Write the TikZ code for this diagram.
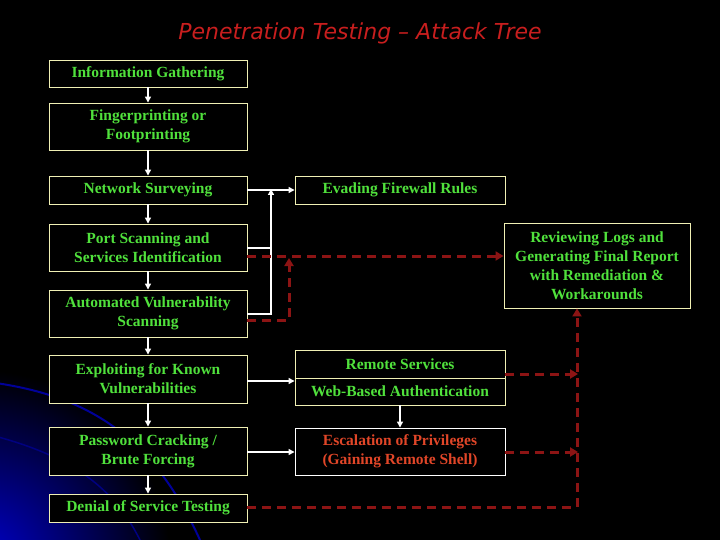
\documentclass[tikz,border=0pt]{standalone}
\usepackage{fontspec}
\setmainfont{Liberation Serif}
\newfontfamily\titlefont{DejaVu Sans}
\usetikzlibrary{arrows.meta}
\definecolor{gtext}{RGB}{80,225,60}
\definecolor{bord}{RGB}{240,240,180}
\definecolor{rtext}{RGB}{225,70,40}
\definecolor{dred}{RGB}{140,20,20}
\definecolor{ttl}{RGB}{200,30,30}
\begin{document}
\begin{tikzpicture}[x=1pt,y=-1pt,
  box/.style={draw=bord,line width=0.9pt,fill=black,text=gtext,font=\bfseries\fontsize{15.5}{19}\selectfont,align=center,inner sep=0pt},
  wa/.style={draw=white,line width=1.3pt,-{Triangle[length=6pt,width=6pt]}},
  wl/.style={draw=white,line width=1.3pt},
  ra/.style={draw=dred,line width=3pt,dash pattern=on 9pt off 6pt,-{Triangle[length=8pt,width=9pt]}},
  rl/.style={draw=dred,line width=3pt,dash pattern=on 9pt off 6pt}]
\fill[black] (0,0) rectangle (720,540);
\begin{scope}
\clip (0,0) rectangle (720,540);
\shade[inner color=blue!80!black,outer color=black] (-20,560) ellipse (190 and 190);
\draw[blue!60!black,line width=2pt] (-30,380) .. controls (80,390) and (150,430) .. (200,540);
\draw[blue!50!black,line width=1.5pt] (-30,430) .. controls (60,450) and (110,480) .. (140,540);
\end{scope}
\node[text=ttl,font=\titlefont\itshape\fontsize{22}{26}\selectfont] (title) at (360,33) {Penetration Testing – Attack Tree};
\node[box,minimum width=198,minimum height=27] (info) at (148,73.5) {Information Gathering};
\node[box,minimum width=198,minimum height=47] (fing) at (148,126.5) {Fingerprinting or\\Footprinting};
\node[box,minimum width=198,minimum height=28] (net) at (148,190) {Network Surveying};
\node[box,minimum width=198,minimum height=47] (port) at (148,247.5) {Port Scanning and\\Services Identification};
\node[box,minimum width=198,minimum height=47] (auto) at (148,313.5) {Automated Vulnerability\\Scanning};
\node[box,minimum width=198,minimum height=48] (expl) at (148,379) {Exploiting for Known\\Vulnerabilities};
\node[box,minimum width=198,minimum height=48] (pass) at (148,451) {Password Cracking /\\Brute Forcing};
\node[box,minimum width=198,minimum height=28] (dos) at (148,508) {Denial of Service Testing};
\node[box,minimum width=210,minimum height=28] (evad) at (400,190) {Evading Firewall Rules};
\node[box,minimum width=210,minimum height=55] (remo) at (400,377.5) {};
\node[text=gtext,font=\bfseries\fontsize{15.5}{19}\selectfont] (remo1) at (400,364) {Remote Services};
\node[text=gtext,font=\bfseries\fontsize{15.5}{19}\selectfont] (remo2) at (400,391) {Web-Based Authentication};
\draw[bord,line width=0.9pt] (remo.west |- 0,378) -- (remo.east |- 0,378);
\node[box,draw=white,text=rtext,minimum width=210,minimum height=47] (esc) at (400,451.5) {Escalation of Privileges\\(Gaining Remote Shell)};
\node[box,minimum width=186,minimum height=85] (rev) at (597,265.5) {Reviewing Logs and\\Generating Final Report\\with Remediation \&\\Workarounds};
% white arrows
\draw[wa] (info) -- (fing);
\draw[wa] (fing) -- (net);
\draw[wa] (net) -- (port);
\draw[wa] (port) -- (auto);
\draw[wa] (auto) -- (expl);
\draw[wa] (expl) -- (pass);
\draw[wa] (pass) -- (dos);
\draw[wa] (net) -- (evad);
\coordinate (bj) at (271,190);
\draw[wl] (port.east |- 0,248) -- (271,248);
\draw[wa] (auto.east |- 0,314) -- (271,314) -- ([yshift=1pt]bj);
\draw[wa] (expl.east |- 0,381) -- (remo.west |- 0,381);
\draw[wa] (pass.east |- 0,452) -- (esc.west |- 0,452);
\draw[wa] (remo.south) -- (esc.north);
% red dashed
\draw[ra] (port.east |- 0,256) -- (rev.west |- 0,256);
\draw[ra] (auto.east |- 0,320) -- (289,320) -- (289,258);
\draw[ra] (remo.east |- 0,374) -- (578,374);
\draw[ra] (esc.east |- 0,452) -- (578,452);
\draw[ra] (dos.east |- 0,507) -- (577,507) -- (rev.south -| 577,0);
\end{tikzpicture}
\end{document}
